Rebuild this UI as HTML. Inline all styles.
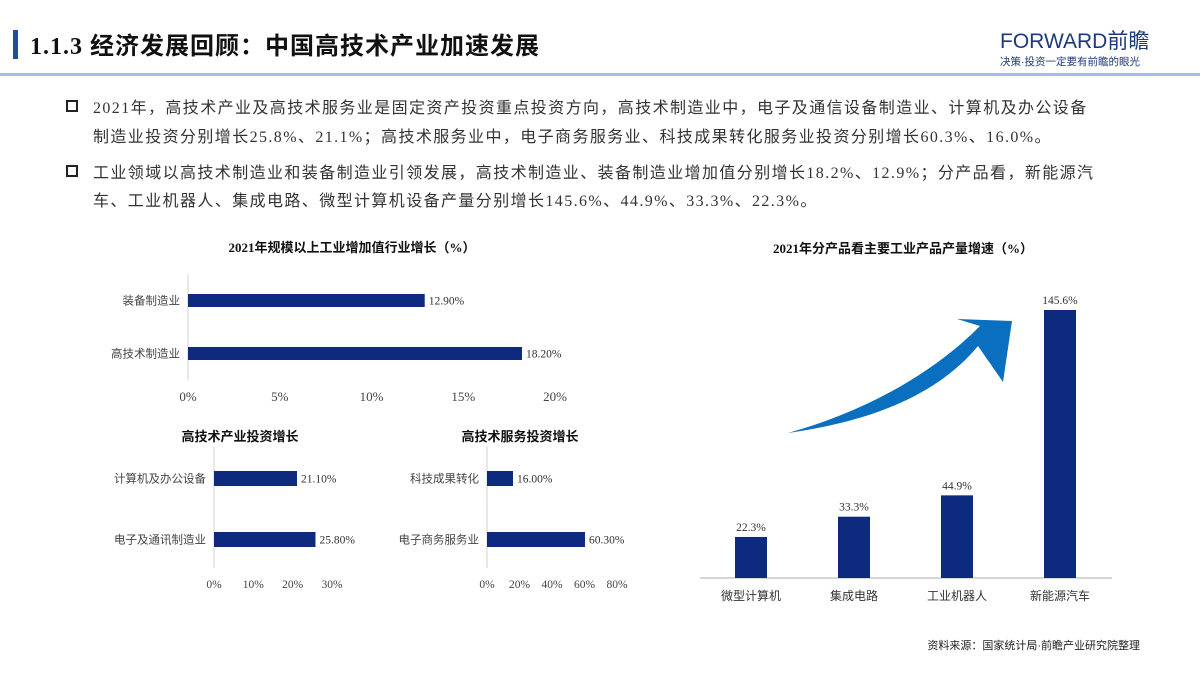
<!DOCTYPE html>
<html><head><meta charset="utf-8">
<style>
html,body{margin:0;padding:0;background:#fff;}
body{width:1200px;height:675px;overflow:hidden;position:relative;font-family:"Liberation Serif","Noto Serif CJK SC","Noto Sans CJK SC",serif;}
svg text{font-family:"Liberation Serif","Noto Sans CJK SC",sans-serif;}
svg text.sans{font-family:"Liberation Sans","Noto Sans CJK SC",sans-serif;}
</style></head>
<body>
<svg id="root" width="1200" height="675" viewBox="0 0 1200 675" xmlns="http://www.w3.org/2000/svg">
  <rect x="13" y="30" width="5" height="29" fill="#1f4e9c"/>
  <text x="30" y="54" font-size="24" font-weight="bold" letter-spacing="1" fill="#111">1.1.3 经济发展回顾：中国高技术产业加速发展</text>
  <rect x="0" y="73" width="1200" height="3" fill="#a9bce3"/>
  <g>
    <text class="sans" x="1000" y="48" font-size="21" fill="#1f3a7a">FORWARD前瞻</text>
    <text class="sans" x="1000" y="65" font-size="10.5" fill="#1f3a7a">决策·投资一定要有前瞻的眼光</text>
  </g>

  <g font-size="16" letter-spacing="1.4" fill="#333">
    <rect x="67" y="101" width="10" height="10" fill="none" stroke="#222" stroke-width="2"/>
    <text x="93" y="113">2021年，高技术产业及高技术服务业是固定资产投资重点投资方向，高技术制造业中，电子及通信设备制造业、计算机及办公设备</text>
    <text x="93" y="142">制造业投资分别增长25.8%、21.1%；高技术服务业中，电子商务服务业、科技成果转化服务业投资分别增长60.3%、16.0%。</text>
    <rect x="67" y="166" width="10" height="10" fill="none" stroke="#222" stroke-width="2"/>
    <text x="93" y="178">工业领域以高技术制造业和装备制造业引领发展，高技术制造业、装备制造业增加值分别增长18.2%、12.9%；分产品看，新能源汽</text>
    <text x="93" y="206">车、工业机器人、集成电路、微型计算机设备产量分别增长145.6%、44.9%、33.3%、22.3%。</text>
  </g>

  <g id="c1"></g>
  <g id="c2"></g>
  <g id="c3"></g>
  <g id="c4"></g>

  <text class="sans" x="1140" y="649" font-size="11" text-anchor="end" fill="#222">资料来源：国家统计局·前瞻产业研究院整理</text>
</svg>
<script>
const NS="http://www.w3.org/2000/svg";
const c1Cats=["装备制造业","高技术制造业"];
const c1Vals=[12.9,18.2];
const c1Ticks=[0,5,10,15,20];
const c2Cats=["计算机及办公设备","电子及通讯制造业"];
const c2Vals=[21.1,25.8];
const c2Ticks=[0,10,20,30];
const c3Cats=["科技成果转化","电子商务服务业"];
const c3Vals=[16.0,60.3];
const c3Ticks=[0,20,40,60,80];
const c4Cats=["微型计算机","集成电路","工业机器人","新能源汽车"];
const c4Vals=[22.3,33.3,44.9,145.6];

function mk(parent,tag,attrs,text){const e=document.createElementNS(NS,tag);for(const k in attrs)e.setAttribute(k,attrs[k]);if(text!==undefined)e.textContent=text;parent.appendChild(e);return e;}

function hbar(g,o){
  const x=v=>o.x0+(v-o.min)/(o.max-o.min)*(o.x1-o.x0);
  const t=mk(g,'text',{x:o.tx,y:o.ty,'font-size':13,'font-weight':'bold','text-anchor':'middle',fill:'#111'},o.title);
  
  
  const ax=mk(g,'line',{x1:o.x0,x2:o.x0,y1:o.ay0,y2:o.ay1,stroke:'#d0d0d0','stroke-width':1});
  
  
  o.cats.forEach((c,i)=>{
    const y=o.by[i];
    const r=mk(g,'rect',{x:x(0),y:y,width:x(o.vals[i])-x(0),height:o.bh,fill:'#0e2a7f'});
    
    
    const l=mk(g,'text',{x:o.x0-8,y:y+o.bh/2+4,'font-size':11.5,'text-anchor':'end',fill:'#444'},c);
    
    
    const v=mk(g,'text',{x:x(o.vals[i])+4,y:y+o.bh/2+4,'font-size':11.5,fill:'#333'},o.vals[i].toFixed(2)+'%');
    
    
  });
  o.ticks.forEach(tk=>{
    const tt=mk(g,'text',{x:x(tk),y:o.tky,'font-size':o.tfs,'text-anchor':'middle',fill:'#444'},tk+'%');
    
    
  });
}
hbar(document.getElementById('c1'),{title:'2021年规模以上工业增加值行业增长（%）',tx:352,ty:252,x0:188,x1:555,min:0,max:20,ay0:274,ay1:380,by:[294,347],bh:13,cats:c1Cats,vals:c1Vals,ticks:c1Ticks,tky:401,tfs:13});
hbar(document.getElementById('c2'),{title:'高技术产业投资增长',tx:240,ty:441,x0:214,x1:332,min:0,max:30,ay0:447,ay1:568,by:[471,532],bh:15,cats:c2Cats,vals:c2Vals,ticks:c2Ticks,tky:588,tfs:11.5});
hbar(document.getElementById('c3'),{title:'高技术服务投资增长',tx:520,ty:441,x0:487,x1:617,min:0,max:80,ay0:447,ay1:568,by:[471,532],bh:15,cats:c3Cats,vals:c3Vals,ticks:c3Ticks,tky:588,tfs:11.5});

(function(){
  const g=document.getElementById('c4');
  const base=578, top=310, maxV=145.6;
  const y=v=>base-(v/maxV)*(base-top);
  const xc=i=>751+i*103;
  const t=mk(g,'text',{x:903,y:253,'font-size':13,'font-weight':'bold','text-anchor':'middle',fill:'#111'},'2021年分产品看主要工业产品产量增速（%）');
  
  
  const ar=mk(g,'path',{d:'M788,433 C865,422 935,398 978,346 L1003,382 L1012,321 L957,319 L980,326 C935,372 865,412 788,433 Z',fill:'#0a6fbf'});
  
  
  const bl=mk(g,'line',{x1:700,x2:1112,y1:base,y2:base,stroke:'#c8c8c8','stroke-width':1.5});
  
  
  c4Cats.forEach((c,i)=>{
    const r=mk(g,'rect',{x:xc(i)-16,y:y(c4Vals[i]),width:32,height:base-y(c4Vals[i]),fill:'#0e2a7f'});
    
    
    const v=mk(g,'text',{x:xc(i),y:y(c4Vals[i])-6,'font-size':11.5,'text-anchor':'middle',fill:'#333'},c4Vals[i].toFixed(1)+'%');
    
    
    const l=mk(g,'text',{x:xc(i),y:600,'font-size':12,'text-anchor':'middle',fill:'#333'},c);
    
    
  });
})();
</script>
</body></html>
